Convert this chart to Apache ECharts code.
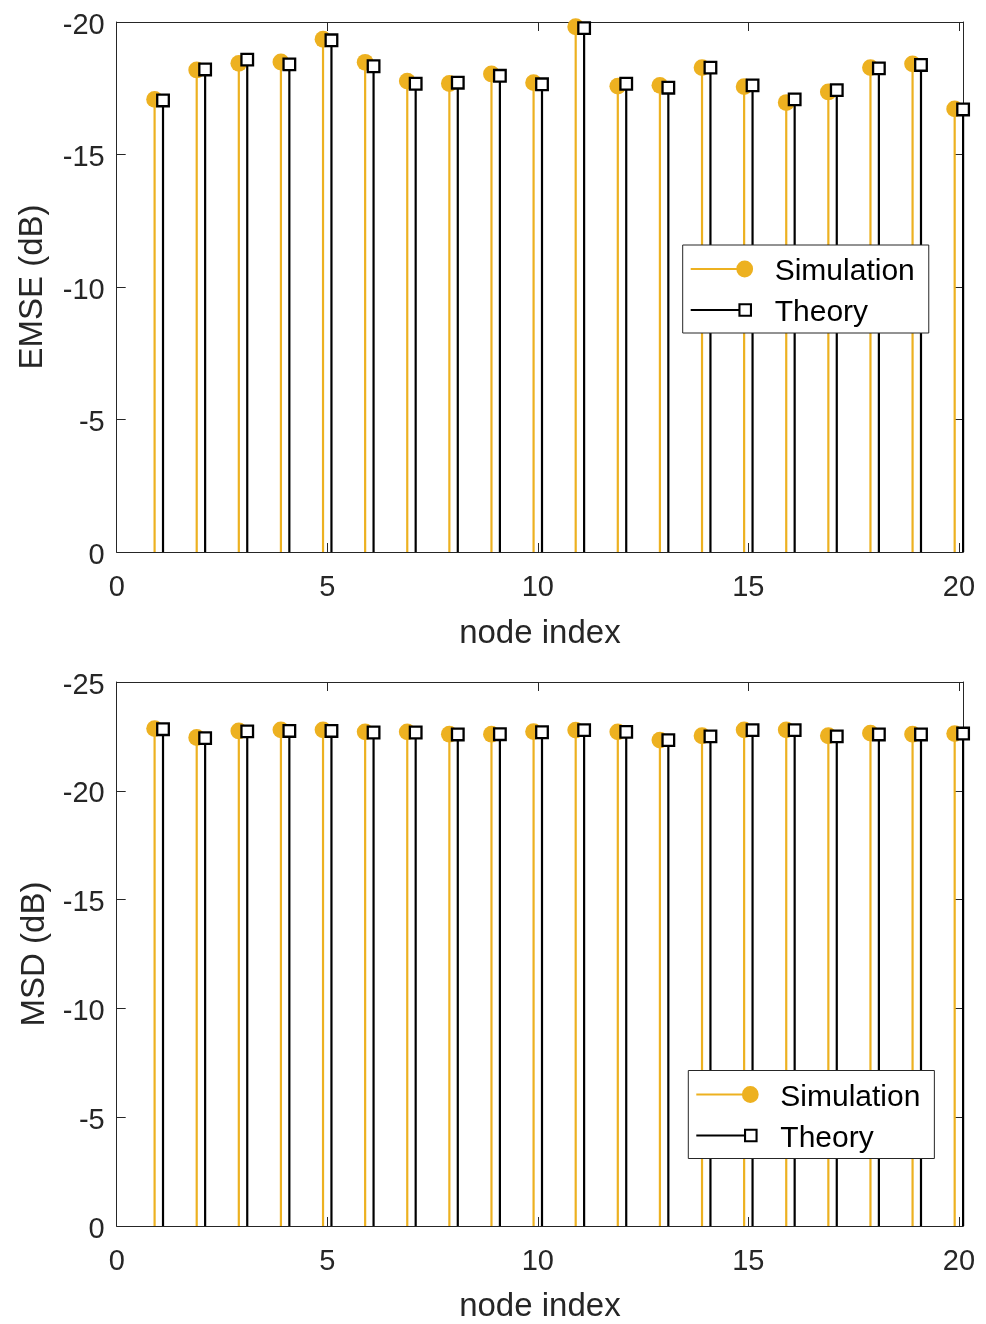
<!DOCTYPE html>
<html>
<head>
<meta charset="utf-8">
<script src="https://cdn.jsdelivr.net/npm/echarts@6/dist/echarts.min.js"></script>
<style>html,body{margin:0;padding:0;background:#fff}#c{width:986px;height:1324px}</style>
</head>
<body>
<div id="c"></div>
<script>
const nodes = [1, 2, 3, 4, 5, 6, 7, 8, 9, 10, 11, 12, 13, 14, 15, 16, 17, 18, 19, 20];
const emseSim = [-17.08, -18.19, -18.44, -18.49, -19.35, -18.48, -17.77, -17.68, -18.04, -17.71, -19.82, -17.58, -17.61, -18.28, -17.56, -16.96, -17.36, -18.28, -18.42, -16.72];
const emseTheory = [-17.04, -18.21, -18.58, -18.40, -19.31, -18.33, -17.67, -17.71, -17.97, -17.65, -19.77, -17.67, -17.52, -18.28, -17.61, -17.08, -17.43, -18.25, -18.38, -16.70];
const msdSim = [-22.86, -22.45, -22.75, -22.80, -22.80, -22.71, -22.71, -22.60, -22.60, -22.72, -22.79, -22.71, -22.33, -22.53, -22.80, -22.80, -22.53, -22.65, -22.60, -22.63];
const msdTheory = [-22.83, -22.42, -22.73, -22.75, -22.75, -22.68, -22.68, -22.59, -22.60, -22.69, -22.79, -22.71, -22.33, -22.50, -22.79, -22.79, -22.50, -22.59, -22.59, -22.63];
const xRange = [0, 20.1];
const emseRange = [-20, 0];
const msdRange = [-25, 0];
const tickStep = 5;
const seriesNames = ['Simulation', 'Theory'];
const xTitle = 'node index';
const yTitles = ['EMSE (dB)', 'MSD (dB)'];

const GOLD = '#EDB120';
const BLACK = '#000000';
const AX = '#262626';
const FONT = 'Liberation Sans, Arial, Helvetica, sans-serif';
const OFFSET = 0.1;

function pairs(vals, off) { return nodes.map((n, i) => [n + off, vals[i]]); }

function stemSeries(name, vals, off, axisIdx, kind) {
  const color = kind === 'circle' ? GOLD : BLACK;
  return {
    type: 'custom', name: name,
    xAxisIndex: axisIdx, yAxisIndex: axisIdx,
    itemStyle: { color: color },
    clip: false,
    data: pairs(vals, off),
    renderItem: function (params, api) {
      const x = api.value(0), y = api.value(1);
      const p0 = api.coord([x, 0]);
      const p1 = api.coord([x, y]);
      const children = [{
        type: 'line',
        shape: { x1: p0[0], y1: p0[1], x2: p1[0], y2: p1[1] },
        style: { stroke: color, lineWidth: 2.2 }
      }];
      if (kind === 'circle') {
        children.push({ type: 'circle', shape: { cx: p1[0], cy: p1[1], r: 8.4 }, style: { fill: GOLD } });
      } else {
        children.push({ type: 'rect', shape: { x: p1[0] - 5.8, y: p1[1] - 5.8, width: 11.6, height: 11.6 },
          style: { fill: '#fff', stroke: BLACK, lineWidth: 2.3 } });
      }
      return { type: 'group', children: children };
    }
  };
}

function xAxes(gridIndex, gap) {
  const base = {
    type: 'value', gridIndex: gridIndex, min: xRange[0], max: xRange[1], interval: tickStep,
    splitLine: { show: false },
    axisLine: { show: true, onZero: false, lineStyle: { color: AX, width: 1 } },
    axisTick: { show: true, inside: true, length: 9, lineStyle: { color: AX, width: 1 } }
  };
  return [
    Object.assign({}, base, {
      position: 'bottom',
      name: xTitle, nameLocation: 'middle', nameGap: gap,
      nameTextStyle: { fontFamily: FONT, fontSize: 33, color: AX },
      axisLabel: { show: true, margin: 21, fontFamily: FONT, fontSize: 29, color: AX,
        formatter: v => (Math.abs(v % tickStep) < 1e-9 ? String(v) : '') }
    }),
    Object.assign({}, base, { position: 'top', axisLabel: { show: false } })
  ];
}

function yAxes(gridIndex, range, title, gap) {
  const base = {
    type: 'value', gridIndex: gridIndex, min: range[0], max: range[1], interval: tickStep, inverse: true,
    splitLine: { show: false },
    axisLine: { show: true, onZero: false, lineStyle: { color: AX, width: 1 } },
    axisTick: { show: true, inside: true, length: 9, lineStyle: { color: AX, width: 1 } }
  };
  return [
    Object.assign({}, base, {
      position: 'left',
      name: title, nameLocation: 'middle', nameGap: gap, nameRotate: 90,
      nameTextStyle: { fontFamily: FONT, fontSize: 33, color: AX },
      axisLabel: { show: true, margin: 12, fontFamily: FONT, fontSize: 29, color: AX,
        formatter: v => '{a|' + v + '}',
        rich: { a: { fontFamily: FONT, fontSize: 29, color: AX, lineHeight: 29, padding: [7, 0, 0, 0] } } }
    }),
    Object.assign({}, base, { position: 'right', axisLabel: { show: false } })
  ];
}

const simIcon = 'path://M0,0L0,0M79,17L79,17M0,7.5H54V9.5H0ZM45.6,8.5A8.4,8.4,0,1,1,62.4,8.5A8.4,8.4,0,1,1,45.6,8.5Z';
const thIcon = 'path://M0,0L0,0M79,17L79,17M0,7.5H48V9.5H0ZM47.7,1.7H61.3V15.3H47.7ZM49.8,3.8V13.2H59.2V3.8Z';

function legendAt(left, top) {
  return {
    orient: 'vertical', left: left, top: top,
    itemWidth: 79, itemHeight: 17, itemGap: 5,
    padding: [6, 14, 5, 8],
    backgroundColor: '#ffffff', borderColor: AX, borderWidth: 1,
    selectedMode: false,
    formatter: n => '{a|' + n + '}',
    textStyle: { fontFamily: FONT, fontSize: 30, color: '#000',
      rich: { a: { fontFamily: FONT, fontSize: 30, lineHeight: 30, color: '#000', padding: [6, 0, 0, 0] } } },
    data: [{ name: seriesNames[0], icon: simIcon }, { name: seriesNames[1], icon: thIcon }]
  };
}

const chart = echarts.init(document.getElementById('c'), null, { renderer: 'canvas' });
chart.setOption({
  backgroundColor: '#ffffff',
  animation: false,
  grid: [
    { left: 116.7, top: 22, width: 846.4, height: 530, containLabel: false },
    { left: 116.7, top: 682, width: 846.4, height: 547.5, containLabel: false }
  ],
  xAxis: xAxes(0, 65).concat(xAxes(1, 64)),
  yAxis: yAxes(0, emseRange, yTitles[0], 67).concat(yAxes(1, msdRange, yTitles[1], 65)),
  legend: [legendAt(682.7, 245), legendAt(688.3, 1070.5)],
  series: [
    stemSeries(seriesNames[0], emseSim, -OFFSET, 0, 'circle'),
    stemSeries(seriesNames[1], emseTheory, OFFSET, 0, 'square'),
    stemSeries(seriesNames[0], msdSim, -OFFSET, 2, 'circle'),
    stemSeries(seriesNames[1], msdTheory, OFFSET, 2, 'square')
  ]
});
</script>
</body>
</html>
